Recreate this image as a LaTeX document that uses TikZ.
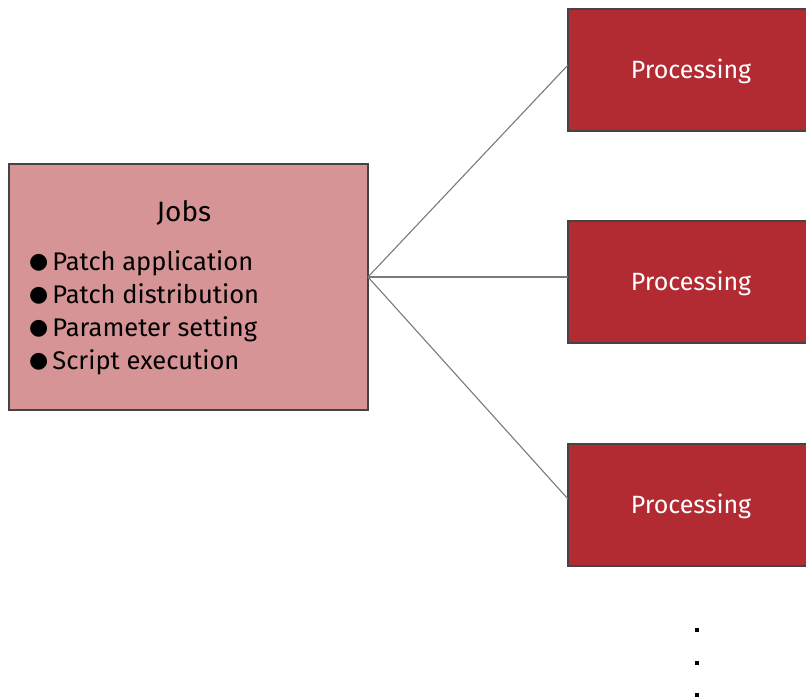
\documentclass[tikz,border=0pt]{standalone}
\usepackage{fontspec}
\setmainfont{Fira Sans}
\newfontfamily\symfont{DejaVu Sans}
\definecolor{jobfill}{HTML}{D69496}
\definecolor{procfill}{HTML}{B22A32}
\definecolor{edgegray}{HTML}{444444}
\definecolor{linkgray}{HTML}{7A7A7A}
\newcommand{\blt}{\raisebox{1.5pt}{\symfont\fontsize{22}{22}\selectfont●}\hspace{4pt}}
\tikzset{
  jobbox/.style={draw=edgegray, line width=1.2pt, fill=jobfill},
  procbox/.style={draw=edgegray, line width=1.2pt, fill=procfill},
  proclabel/.style={text=white, anchor=base, inner sep=0pt, font=\fontsize{25}{28}\selectfont},
  item/.style={anchor=base west, inner sep=0pt, font=\fontsize{25.5}{30}\selectfont},
  link/.style={draw=linkgray, line width=1.1pt},
  dot/.style={fill=black, minimum size=4pt, inner sep=0pt}
}
\begin{document}
\begin{tikzpicture}[x=1pt,y=-1pt]
\useasboundingbox (0,0) rectangle (806,699);
\begin{scope}
\clip (0,0) rectangle (806,699);
% source box with its job list
\draw[jobbox] (9,164) rectangle (368,410);
\node[anchor=base, inner sep=0pt, font=\fontsize{28}{30}\selectfont] (jobs) at (184,221) {Jobs};
\node[item] (i1) at (29,270) {\blt Patch application};
\node[item] (i2) at (29,303) {\blt Patch distribution};
\node[item] (i3) at (29,336) {\blt Parameter setting};
\node[item] (i4) at (29,369) {\blt Script execution};
\coordinate (src) at (368,277);
% processing boxes
\draw[procbox] (568,9) rectangle (812,131);
\draw[procbox] (568,221) rectangle (812,343);
\draw[procbox] (568,444) rectangle (812,566);
\coordinate (p1) at (568,65);
\coordinate (p2) at (568,277);
\coordinate (p3) at (568,499);
\node[proclabel] (t1) at (691,78) {Processing};
\node[proclabel] (t2) at (691,290) {Processing};
\node[proclabel] (t3) at (691,513) {Processing};
% connectors
\draw[link] (src) -- (p1);
\draw[link] (src) -- (p2);
\draw[link] (src) -- (p3);
% continuation marks
\node[dot] (d1) at (697,630) {};
\node[dot] (d2) at (697,663) {};
\node[dot] (d3) at (697,695) {};
\end{scope}
\end{tikzpicture}
\end{document}
